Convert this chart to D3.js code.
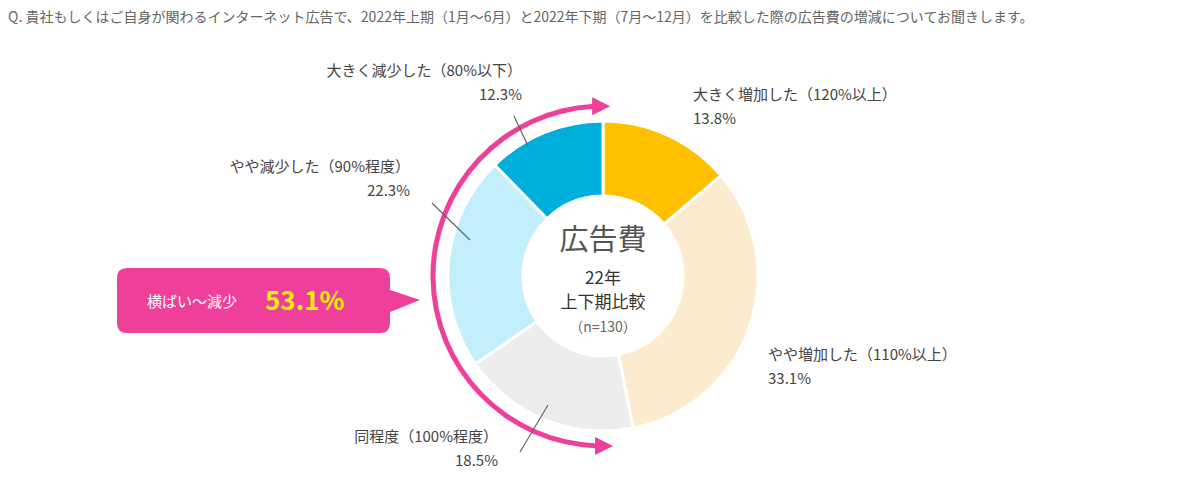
<!DOCTYPE html>
<html lang="ja">
<head>
<meta charset="UTF-8">
<script src="https://d3js.org/d3.v7.min.js"></script>
<style>
  body { margin: 0; background: #fff; }
  text { font-family: "Noto Sans CJK JP", sans-serif; }
</style>
</head>
<body>
<div id="chart"></div>
<script>
  // data
  const labels = ["大きく増加した（120%以上）", "やや増加した（110%以上）", "同程度（100%程度）", "やや減少した（90%程度）", "大きく減少した（80%以下）"];
  const values = [13.8, 33.1, 18.5, 22.3, 12.3];
  const colors = ["#FFC000", "#FDEBCF", "#EDEDED", "#C3EEFB", "#00AEDA"];

  const W = 1203, H = 491, cx = 603, cy = 276;
  const svg = d3.select("#chart").append("svg").attr("width", W).attr("height", H);

  // question
  svg.append("text").attr("x", 8).attr("y", 22).attr("font-size", 14).attr("fill", "#666")
    .text("Q. 貴社もしくはご自身が関わるインターネット広告で、2022年上期（1月～6月）と2022年下期（7月～12月）を比較した際の広告費の増減についてお聞きします。");

  const g = svg.append("g").attr("transform", `translate(${cx},${cy})`);
  const pie = d3.pie().sort(null).value(d => d);
  const arc = d3.arc().innerRadius(80).outerRadius(155);
  g.selectAll("path.slice").data(pie(values)).join("path")
    .attr("class", "slice")
    .attr("d", arc).attr("fill", (d, i) => colors[i])
    .attr("stroke", "#fff").attr("stroke-width", 3);

  // center text
  g.append("text").attr("text-anchor", "middle").attr("y", -26).attr("font-size", 29).attr("fill", "#555").text("広告費");
  g.append("text").attr("text-anchor", "middle").attr("y", 8).attr("font-size", 17).attr("fill", "#333").text("22年");
  g.append("text").attr("text-anchor", "middle").attr("y", 32).attr("font-size", 17).attr("fill", "#333").text("上下期比較");
  g.append("text").attr("text-anchor", "middle").attr("y", 56).attr("font-size", 14).attr("fill", "#666").text("（n=130）");

  // labels
  const lab = [
    { x: 693, y: 100, a: "start", line: null },
    { x: 768, y: 360, a: "start", line: null },
    { x: 498, y: 442, a: "end", line: [[520, 452], [548, 405]] },
    { x: 410, y: 172, a: "end", line: [[432, 203], [470, 240]] },
    { x: 522, y: 76, a: "end", line: [[514, 116], [528, 146]] }
  ];
  lab.forEach((l, i) => {
    svg.append("text").attr("x", l.x).attr("y", l.y).attr("text-anchor", l.a).attr("font-size", 15).attr("fill", "#444").text(labels[i]);
    svg.append("text").attr("x", l.x).attr("y", l.y + 24).attr("text-anchor", l.a).attr("font-size", 15).attr("fill", "#444").text(values[i] + "%");
    if (l.line) svg.append("path").attr("d", d3.line()(l.line)).attr("stroke", "#666").attr("stroke-width", 1.2).attr("fill", "none");
  });

  // pink arrow arc
  const pink = "#EE3F9A", r = 170;
  const a0 = -178 * Math.PI / 180, a1 = -3 * Math.PI / 180;
  g.append("path").attr("d", d3.arc().innerRadius(r - 2.5).outerRadius(r + 2.5).startAngle(a0).endAngle(a1)()).attr("fill", pink);
  const topP = [r * Math.sin(a1), -r * Math.cos(a1)];
  g.append("path").attr("d", `M${topP[0] + 16},${topP[1]} L${topP[0] - 2},${topP[1] - 9} L${topP[0] - 2},${topP[1] + 9}Z`).attr("fill", pink);
  const botP = [r * Math.sin(a0), -r * Math.cos(a0)];
  g.append("path").attr("d", `M${botP[0] + 16},${botP[1]} L${botP[0] - 2},${botP[1] - 9} L${botP[0] - 2},${botP[1] + 9}Z`).attr("fill", pink);

  // callout
  svg.append("path")
    .attr("d", "M127,268 H380 Q390,268 390,278 V290 L420,300 L390,312 V323 Q390,333 380,333 H127 Q117,333 117,323 V278 Q117,268 127,268Z")
    .attr("fill", pink);
  svg.append("text").attr("x", 147).attr("y", 307).attr("font-size", 15).attr("fill", "#fff").text("横ばい～減少");
  svg.append("text").attr("x", 265).attr("y", 310).attr("font-size", 26).attr("font-weight", "bold").attr("fill", "#FFF200").text("53.1%");
</script>
</body>
</html>
